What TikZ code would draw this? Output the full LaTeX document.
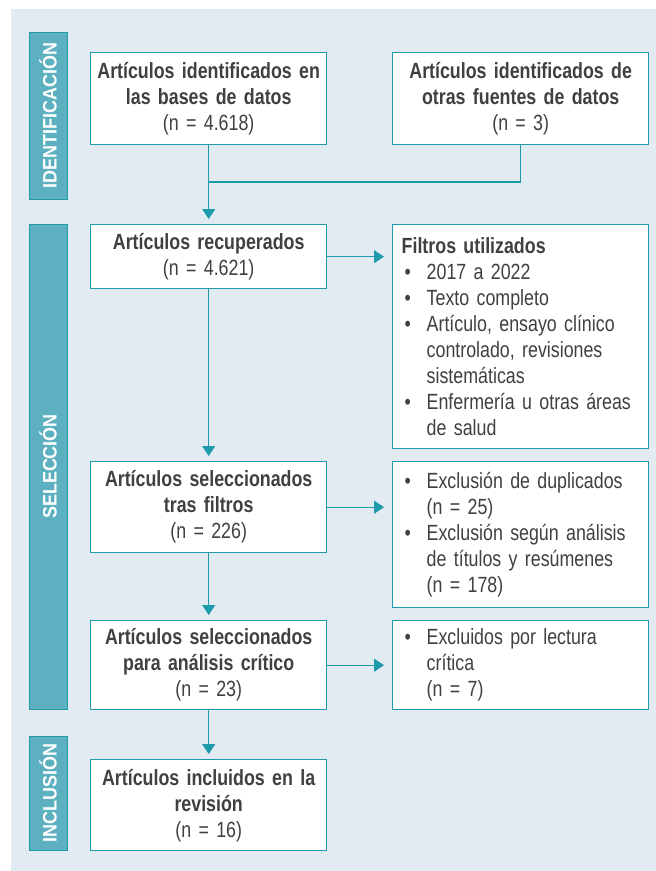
\documentclass[tikz,border=0pt]{standalone}
\usepackage{fontspec}
\setmainfont[FakeStretch=0.81]{Liberation Sans}
\newfontfamily\etapafont[FakeStretch=0.92]{Liberation Sans}
\usetikzlibrary{arrows.meta,positioning}
\definecolor{fondo}{HTML}{E3EBF2}
\definecolor{verde}{HTML}{1E9BAB}
\definecolor{barra}{HTML}{5CB0BF}
\definecolor{texto}{HTML}{404040}
\tikzstyle{caja} = [draw=verde,fill=white,line width=1.4pt,rectangle,inner sep=0,align=center,text=texto,font=\fontsize{22}{26}\selectfont]
\tikzstyle{cajaizq} = [caja,minimum width=236pt,text width=226pt,anchor=north west]
\tikzstyle{cajader} = [caja,minimum width=256pt,text width=238pt,align=left,anchor=north west]
\tikzstyle{etapa} = [draw=verde,fill=barra,line width=1pt,rectangle,rotate=90,minimum height=38pt,inner sep=0,text=white,font=\etapafont\bfseries\fontsize{19.5}{19.5}\selectfont]
\tikzstyle{linea} = [-,draw=verde,line width=1.4pt]
\tikzstyle{flecha} = [linea,-{Triangle[width=13pt,length=10pt]}]
\def \bw {25pt}
\def \blt {\makebox[\bw][l]{\hspace{3pt}•}}
\def \sng {\hspace*{\bw}}

\begin{document}
\begin{tikzpicture}[x=1pt,y=-1pt]
      \useasboundingbox (0,0) rectangle (656,871);
      \fill[fondo] (11,9) rectangle (656,871);
      \node[etapa,minimum width=167pt] (ident) at (48,115.5) {IDENTIFICACIÓN};
      \node[etapa,minimum width=485pt] (selec) at (48,466.5) {SELECCIÓN};
      \node[etapa,minimum width=114pt] (inclu) at (48,793) {INCLUSIÓN};
      \node[cajaizq,minimum height=92pt] (bases) at (90,52) {\textbf{Artículos identificados en}\\\textbf{las bases de datos}\\(n = 4.618)};
      \node[caja,minimum width=256pt,text width=240pt,minimum height=92pt,anchor=north west] (otras) at (392,52) {\textbf{Artículos identificados de}\\\textbf{otras fuentes de datos}\\(n = 3)};
      \node[cajaizq,minimum height=64pt] (recup) at (90,224) {\textbf{Artículos recuperados}\\(n = 4.621)};
      \node[cajader,minimum height=224pt] (filtros) at (392,224) {\textbf{Filtros utilizados}\\
        \blt 2017 a 2022\\
        \blt Texto completo\\
        \blt Artículo, ensayo clínico\\
        \sng controlado, revisiones\\
        \sng sistemáticas\\
        \blt Enfermería u otras áreas\\
        \sng de salud};
      \node[cajaizq,minimum height=91pt] (tras) at (90,461) {\textbf{Artículos seleccionados}\\\textbf{tras filtros}\\(n = 226)};
      \node[cajader,minimum height=146pt] (dupli) at (392,461) {\blt Exclusión de duplicados\\
        \sng (n = 25)\\
        \blt Exclusión según análisis\\
        \sng de títulos y resúmenes\\
        \sng (n = 178)};
      \node[cajaizq,minimum height=89pt] (critico) at (90,620) {\textbf{Artículos seleccionados}\\\textbf{para análisis crítico}\\(n = 23)};
      \node[cajader,minimum height=89pt] (lectura) at (392,620) {\blt Excluidos por lectura\\
        \sng crítica\\
        \sng (n = 7)};
      \node[cajaizq,minimum height=91pt] (incl) at (90,759) {\textbf{Artículos incluidos en la}\\\textbf{revisión}\\(n = 16)};
      \coordinate (union) at (208,182);
      \draw[linea] (otras.south) |- (union);
      \draw[flecha,shorten >=5pt] (bases.south) -- (recup.north);
      \draw[flecha,shorten >=8pt] (recup.east) -- (recup.east -| filtros.west);
      \draw[flecha,shorten >=5pt] (recup.south) -- (tras.north);
      \draw[flecha,shorten >=8pt] (tras.east) -- (tras.east -| dupli.west);
      \draw[flecha,shorten >=5pt] (tras.south) -- (critico.north);
      \draw[flecha,shorten >=8pt] (critico.east) -- (critico.east -| lectura.west);
      \draw[flecha,shorten >=5pt] (critico.south) -- (incl.north);
\end{tikzpicture}
\end{document}
